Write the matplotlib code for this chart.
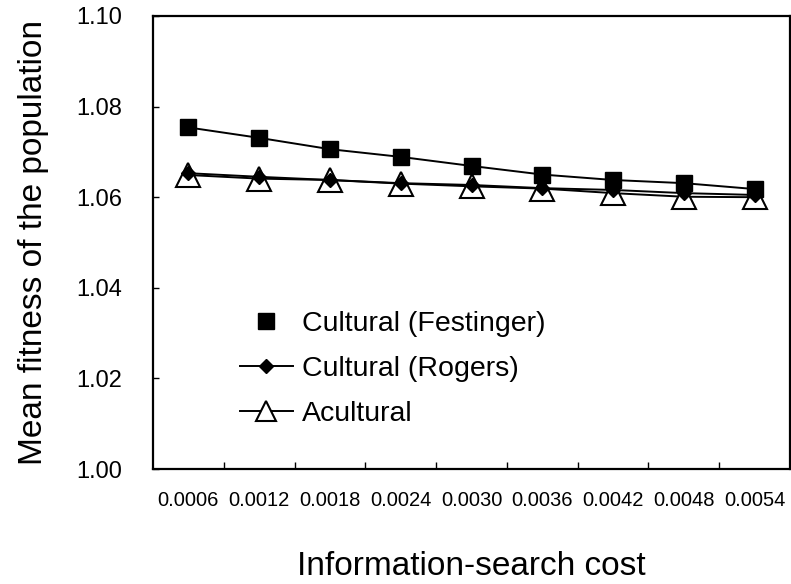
import matplotlib
matplotlib.use("Agg")
import matplotlib.pyplot as plt
from matplotlib.lines import Line2D
from matplotlib.ticker import FixedLocator

plt.rcParams["font.family"] = ["Liberation Sans", "DejaVu Sans"]

# data
costs = ["0.0006", "0.0012", "0.0018", "0.0024", "0.0030",
         "0.0036", "0.0042", "0.0048", "0.0054"]
festinger = [1.0754, 1.0731, 1.0706, 1.0689, 1.0669, 1.0650, 1.0638, 1.0631, 1.0618]
rogers = [1.0653, 1.0645, 1.0638, 1.0631, 1.0627, 1.0620, 1.0616, 1.0609, 1.0605]
acultural = [1.0649, 1.0641, 1.0638, 1.0630, 1.0624, 1.0619, 1.0609, 1.0601, 1.0600]
y_ticks = [1.00, 1.02, 1.04, 1.06, 1.08, 1.10]

fig = plt.figure(figsize=(7.91, 5.84), dpi=100)
ax = fig.add_axes([153 / 791, 1 - 469 / 584, 637 / 791, 453 / 584])

x = list(range(len(costs)))
lw = 1.4
ax.plot(x, acultural, color="black", lw=lw, marker="^", ms=17,
        mfc="white", mec="black", mew=1.5, zorder=3)
ax.plot(x, rogers, color="black", lw=lw, marker="D", ms=7,
        mfc="black", mec="black", zorder=4)
ax.plot(x, festinger, color="black", lw=lw, marker="s", ms=11,
        mfc="black", mec="black", zorder=5)

ax.set_xlim(-0.5, len(costs) - 0.5)
ax.set_ylim(1.00, 1.10)
ax.set_xticks(x)
ax.set_xticklabels(costs, fontsize=14.5)
ax.xaxis.set_minor_locator(FixedLocator([i + 0.5 for i in x[:-1]]))
ax.tick_params(axis="x", which="major", length=0, pad=16)
ax.tick_params(axis="x", which="minor", direction="in", length=5, width=1)
ax.set_yticks(y_ticks)
ax.set_yticklabels([f"{v:.2f}" for v in y_ticks], fontsize=17)
ax.tick_params(axis="y", direction="in", length=4, width=1, pad=22)

for sp in ax.spines.values():
    sp.set_linewidth(1.6)

ax.set_xlabel("Information-search cost", fontsize=24, va="center")
ax.xaxis.set_label_coords(0.5, -0.216)
ax.set_ylabel("Mean fitness of the population", fontsize=24,
              ha="center", va="center")
ax.yaxis.set_label_coords(-0.188, 0.5)

handles = [
    Line2D([], [], ls="none", marker="s", ms=11, color="black"),
    Line2D([], [], color="black", lw=lw, marker="D", ms=7),
    Line2D([], [], color="black", lw=lw, marker="^", ms=15,
           mfc="white", mec="black", mew=1.5),
]
labels = ["Cultural (Festinger)", "Cultural (Rogers)", "Acultural"]
fig.legend(handles, labels, loc="center left",
           bbox_to_anchor=(240 / 791, 1 - 369 / 584),
           frameon=False, fontsize=20.5, handlelength=1.85,
           handletextpad=0.33, labelspacing=0.66,
           borderpad=0, borderaxespad=0)

fig.savefig("out.png", dpi=100)
